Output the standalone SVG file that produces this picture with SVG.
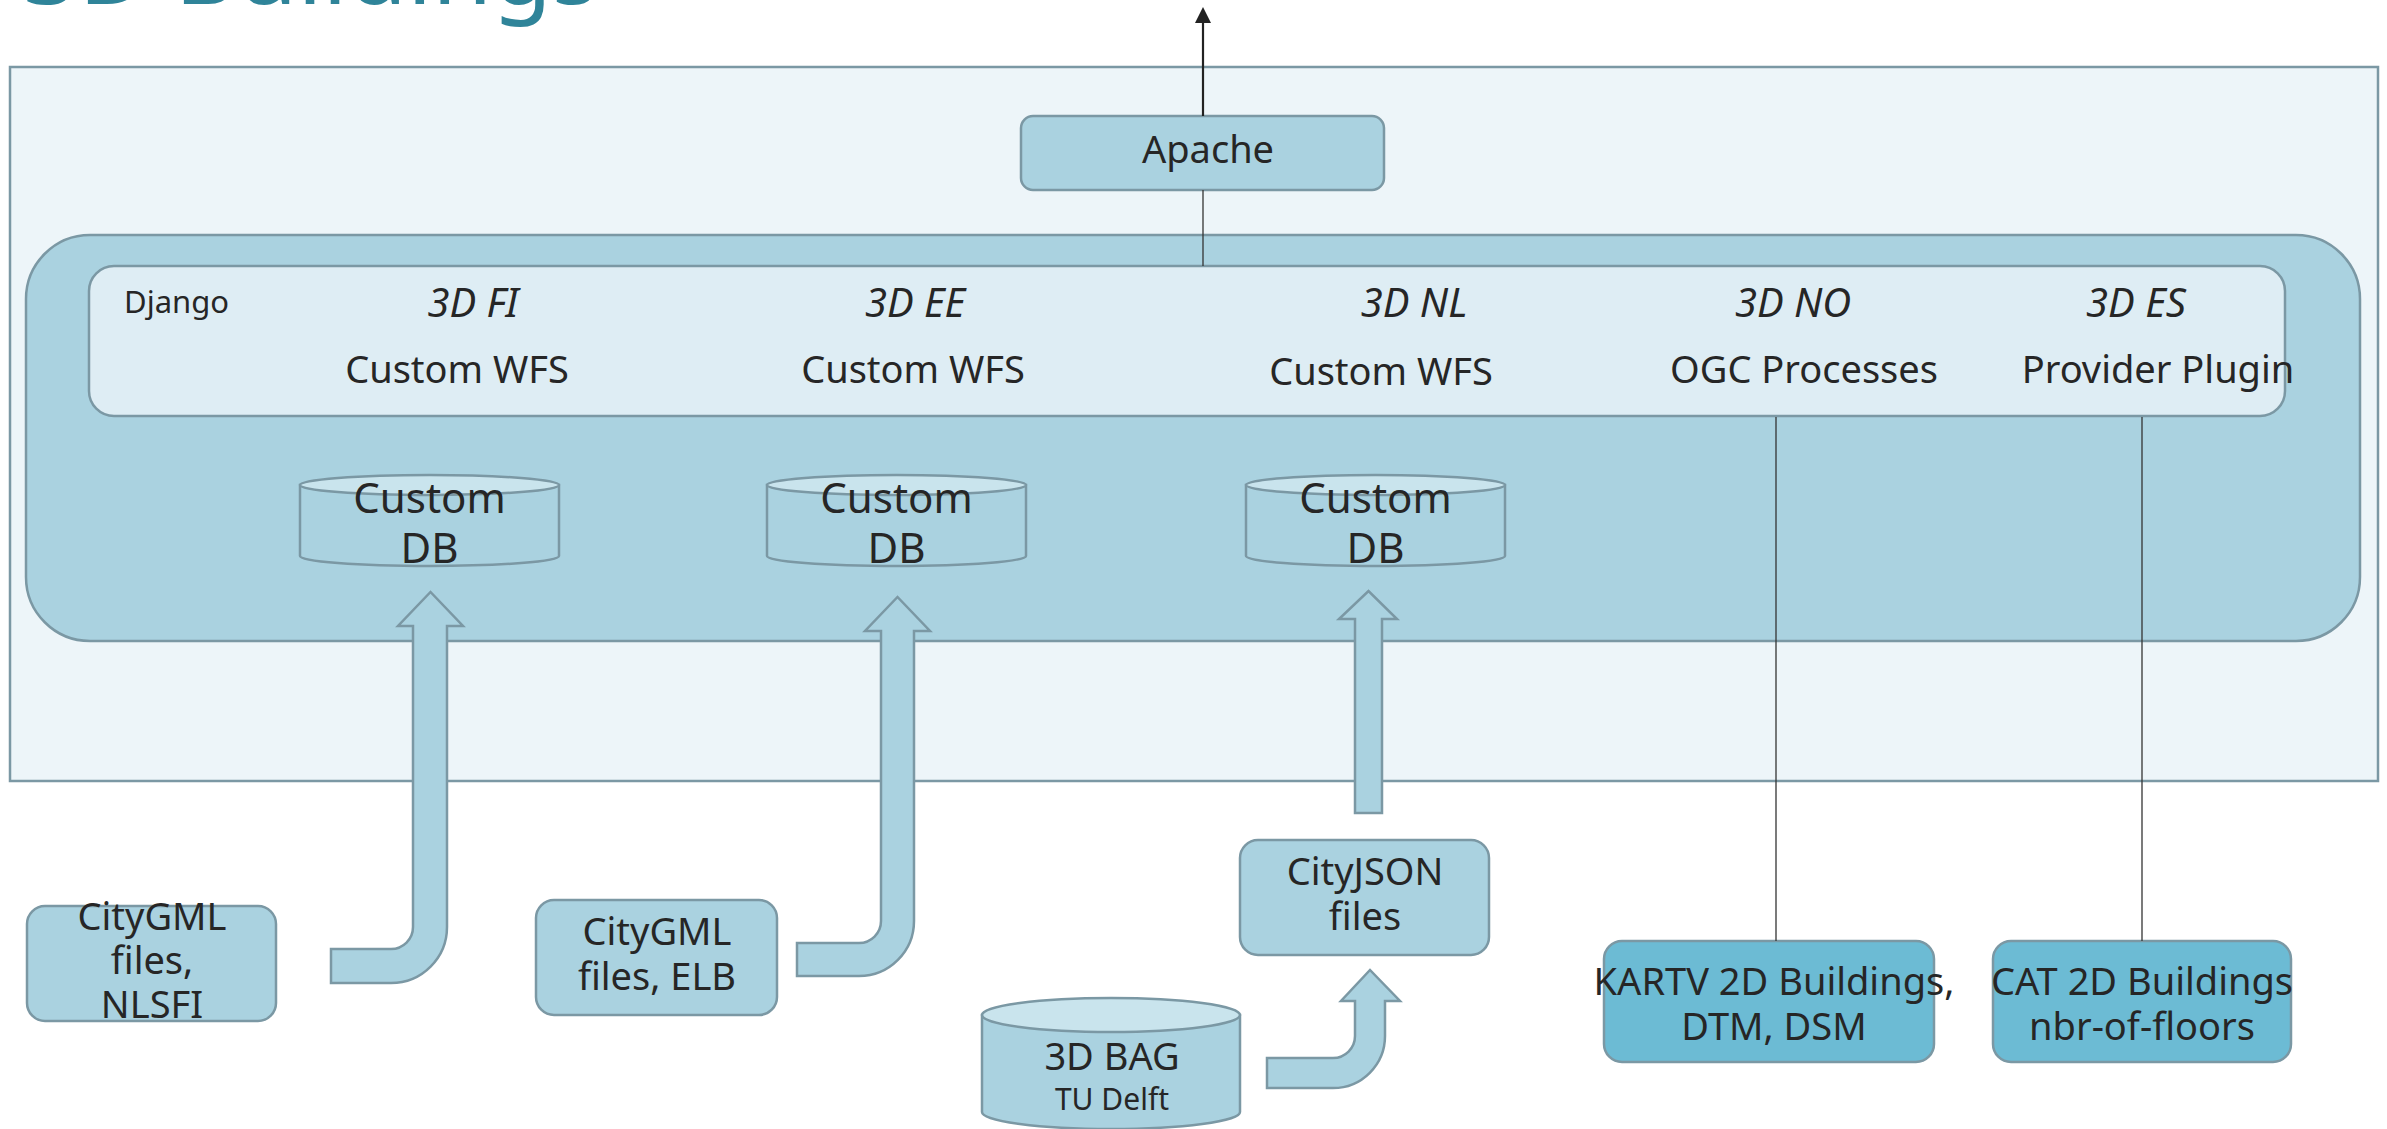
<svg xmlns="http://www.w3.org/2000/svg" width="2387" height="1129" viewBox="0 0 2387 1129">
<defs>
<style>
.t{font-family:"Noto Sans","DejaVu Sans",sans-serif;fill:#262626;text-anchor:middle}
.s38{font-size:38px}
.s42{font-size:42px}
.it{font-style:italic;font-size:40px}
.box{fill:#aad2e0;stroke:#7b98a4;stroke-width:2.5}
.dark{fill:#6cbbd4;stroke:#7b98a4;stroke-width:2.5}
.cyltop{fill:#c9e4ed;stroke:#7b98a4;stroke-width:2.5}
.arr{fill:#aad2e0;stroke:#7b98a4;stroke-width:2.5;stroke-linejoin:miter}
.ln{stroke:#333;stroke-width:1.3;fill:none}
</style>
</defs>
<rect width="2387" height="1129" fill="#ffffff"/>
<text x="23" y="4" style="font-family:'Noto Sans','DejaVu Sans',sans-serif;font-size:97px;fill:#2f8499">3D Buildings</text>

<g id="server">
<rect x="10" y="67" width="2368" height="714" fill="#edf5f9" stroke="#7b98a4" stroke-width="2.5"/>
</g>
<g id="django-container">
<rect x="26" y="235" width="2334" height="406" rx="64" ry="64" class="box"/>
</g>
<g id="django">
<rect x="89" y="266" width="2196" height="150" rx="25" ry="25" fill="#deedf4" stroke="#7b98a4" stroke-width="2.5"/>
<text x="124" y="313" style="font-family:'Noto Sans','DejaVu Sans',sans-serif;font-size:31px;fill:#262626">Django</text>
</g>
<g id="svc-fi">
<text class="t it" x="473" y="317">3D FI</text>
<text class="t s38" x="457" y="383">Custom WFS</text>
</g>
<g id="svc-ee">
<text class="t it" x="915" y="317">3D EE</text>
<text class="t s38" x="913" y="383">Custom WFS</text>
</g>
<g id="svc-nl">
<text class="t it" x="1414" y="317">3D NL</text>
<text class="t s38" x="1381" y="385">Custom WFS</text>
</g>
<g id="svc-no">
<text class="t it" x="1793" y="317">3D NO</text>
<text class="t s38" x="1804" y="383">OGC Processes</text>
</g>
<g id="svc-es">
<text class="t it" x="2136" y="317">3D ES</text>
<text class="t s38" x="2158" y="383">Provider Plugin</text>
</g>

<g id="apache">
<rect x="1021" y="116" width="363" height="74" rx="12" ry="12" class="box"/>
<text class="t s38" x="1208" y="163">Apache</text>
</g>

<g id="db-fi">
<path d="M300,485 L300,556 A129.5,10 0 0 0 559,556 L559,485 Z" class="box"/>
<ellipse cx="429.5" cy="485" rx="129.5" ry="10" class="cyltop"/>
<text class="t s42" x="429.5" y="513">Custom</text>
<text class="t s42" x="429.5" y="563">DB</text>
</g>
<g id="db-ee">
<path d="M767,485 L767,556 A129.5,10 0 0 0 1026,556 L1026,485 Z" class="box"/>
<ellipse cx="896.5" cy="485" rx="129.5" ry="10" class="cyltop"/>
<text class="t s42" x="896.5" y="513">Custom</text>
<text class="t s42" x="896.5" y="563">DB</text>
</g>
<g id="db-nl">
<path d="M1246,485 L1246,556 A129.5,10 0 0 0 1505,556 L1505,485 Z" class="box"/>
<ellipse cx="1375.5" cy="485" rx="129.5" ry="10" class="cyltop"/>
<text class="t s42" x="1375.5" y="513">Custom</text>
<text class="t s42" x="1375.5" y="563">DB</text>
</g>

<g id="src-nlsfi">
<rect x="27" y="906" width="249" height="115" rx="18" ry="18" class="box"/>
<text class="t s38" x="152" y="930">CityGML</text>
<text class="t s38" x="152" y="974">files,</text>
<text class="t s38" x="152" y="1018">NLSFI</text>
</g>
<g id="src-elb">
<rect x="536" y="900" width="241" height="115" rx="18" ry="18" class="box"/>
<text class="t s38" x="657" y="945">CityGML</text>
<text class="t s38" x="657" y="990">files, ELB</text>
</g>
<g id="src-cityjson">
<rect x="1240" y="840" width="249" height="115" rx="18" ry="18" class="box"/>
<text class="t s38" x="1365" y="885">CityJSON</text>
<text class="t s38" x="1365" y="930">files</text>
</g>
<g id="src-3dbag">
<path d="M982,1015 L982,1112 A129,17 0 0 0 1240,1112 L1240,1015 Z" class="box"/>
<ellipse cx="1111" cy="1015" rx="129" ry="17" class="cyltop"/>
<text class="t s38" x="1112" y="1070">3D BAG</text>
<text class="t" style="font-size:30px" x="1112" y="1110">TU Delft</text>
</g>
<g id="src-kartv">
<rect x="1604" y="941" width="330" height="121" rx="18" ry="18" class="dark"/>
<text class="t s38" x="1774" y="995">KARTV 2D Buildings,</text>
<text class="t s38" x="1774" y="1040">DTM, DSM</text>
</g>
<g id="src-cat">
<rect x="1993" y="941" width="298" height="121" rx="18" ry="18" class="dark"/>
<text class="t s38" x="2142" y="995">CAT 2D Buildings</text>
<text class="t s38" x="2142" y="1040">nbr-of-floors</text>
</g>

<g id="connectors">
<line x1="1203" y1="116" x2="1203" y2="20" stroke="#222" stroke-width="2.2"/>
<polygon points="1203,7 1195,23 1211,23" fill="#222"/>
<line x1="1203" y1="190" x2="1203" y2="266" class="ln"/>
<line x1="1776" y1="417" x2="1776" y2="941" class="ln"/>
<line x1="2142" y1="417" x2="2142" y2="941" class="ln"/>
<path class="arr" d="M331,949 L391,949 A22,22 0 0 0 413,927 L413,626 L398,626 L430.5,592 L463,626 L447,626 L447,927 A56,56 0 0 1 391,983 L331,983 Z"/>
<path class="arr" d="M797,943 L859,943 A22,22 0 0 0 881,921 L881,631 L865,631 L897.5,597 L930,631 L914,631 L914,921 A55,55 0 0 1 859,976 L797,976 Z"/>
<path class="arr" d="M1355,813 L1355,619 L1339,619 L1368.5,591 L1397,619 L1382,619 L1382,813 Z"/>
<path class="arr" d="M1267,1058 L1333,1058 A22,22 0 0 0 1355,1036 L1355,1001 L1341,1001 L1370,970 L1400,1001 L1385,1001 L1385,1036 A52,52 0 0 1 1333,1088 L1267,1088 Z"/>
</g>
</svg>
